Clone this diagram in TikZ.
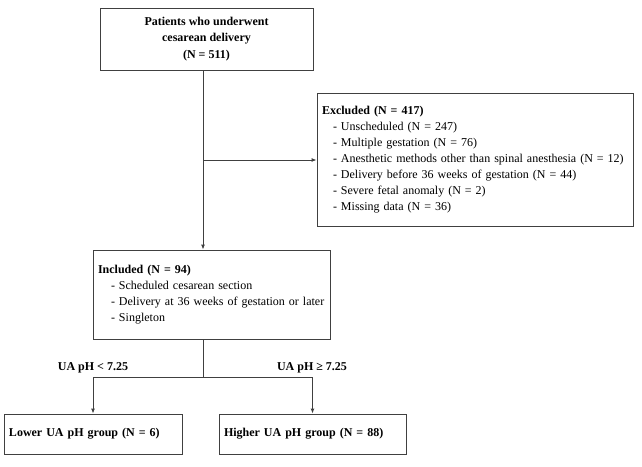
\documentclass[tikz,border=0pt]{standalone}
\usepackage{fontspec}
\setmainfont{Liberation Serif}
\usetikzlibrary{arrows.meta}
\begin{document}
\begin{tikzpicture}[x=1pt,y=-1pt,
  box/.style={draw=black!75, line width=0.9pt, rectangle, inner xsep=5pt, inner ysep=0pt,
    font=\fontsize{12}{16}\selectfont},
  lbl/.style={font=\fontsize{12}{14}\selectfont\bfseries, inner sep=0pt},
  conn/.style={draw=black!75, line width=0.9pt},
  arr/.style={conn, -{Latex[length=5pt,width=4pt]}}]
\useasboundingbox (0,0) rectangle (642,466);
\node[box, minimum width=213pt, minimum height=62pt, align=center, font=\fontsize{12}{16.5}\selectfont\bfseries]
  (top) at (206.5,39) {Patients who underwent\\cesarean delivery\\(N = 511)};
\node[box, minimum width=316pt, minimum height=133pt, text width=306pt, align=left]
  (excl) at (475,159.5) {\textbf{Excluded (N = 417)}\\
  \hspace*{11pt}- Unscheduled (N = 247)\\
  \hspace*{11pt}- Multiple gestation (N = 76)\\
  \hspace*{11pt}- Anesthetic methods other than spinal anesthesia (N = 12)\\
  \hspace*{11pt}- Delivery before 36 weeks of gestation (N = 44)\\
  \hspace*{11pt}- Severe fetal anomaly (N = 2)\\
  \hspace*{11pt}- Missing data (N = 36)};
\node[box, minimum width=237pt, minimum height=89pt, text width=227pt, align=left]
  (incl) at (211.5,294.5) {\textbf{Included (N = 94)}\\
  \hspace*{13pt}- Scheduled cesarean section\\
  \hspace*{13pt}- Delivery at 36 weeks of gestation or later\\
  \hspace*{13pt}- Singleton};
\node[box, minimum width=178pt, minimum height=40pt, text width=168pt, align=left, font=\fontsize{12}{16}\selectfont\bfseries]
  (lower) at (93,434) {Lower UA pH group (N = 6)};
\node[box, minimum width=187pt, minimum height=40pt, text width=177pt, align=left, font=\fontsize{12}{16}\selectfont\bfseries]
  (higher) at (312.5,434) {Higher UA pH group (N = 88)};
\coordinate (c1) at (203,160);
\coordinate (split) at (203,377);
\draw[arr] (top.south -| c1) -- (incl.north -| c1);
\draw[arr] (c1) -- (excl.west |- c1);
\draw[conn] (incl.south -| split) -- (split);
\draw[arr] (split) -| (lower.north);
\draw[arr] (split) -| (higher.north);
\node[lbl] (l1) at (93,368) {UA pH < 7.25};
\node[lbl] (l2) at (312,368) {UA pH ≥ 7.25};
\end{tikzpicture}
\end{document}
